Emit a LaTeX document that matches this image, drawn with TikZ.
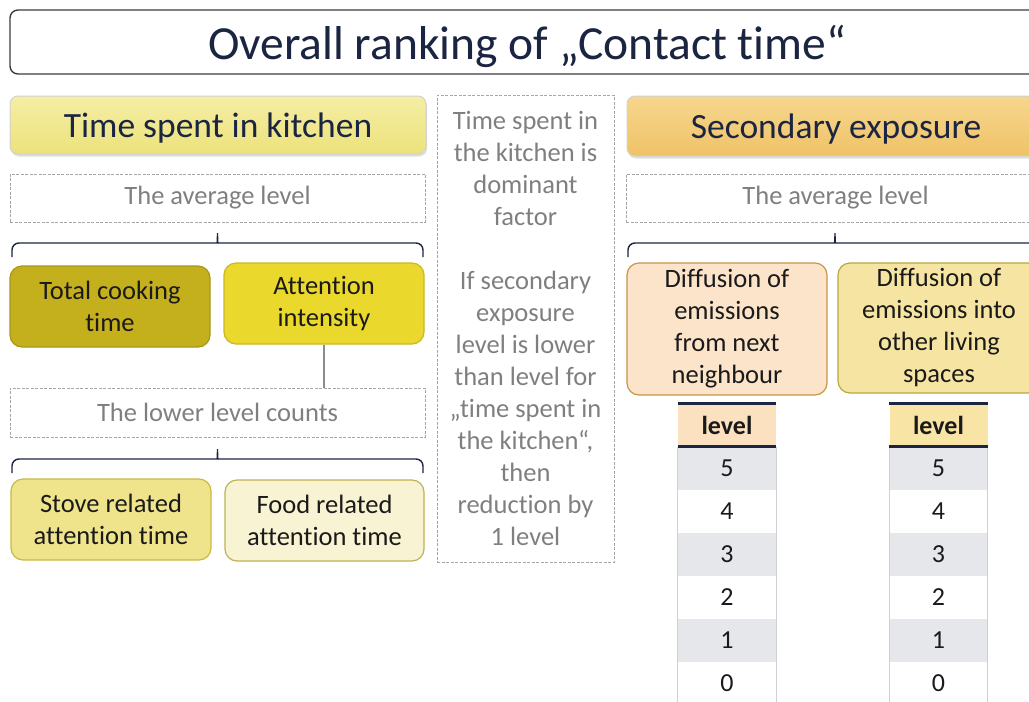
\documentclass[tikz,border=0pt]{standalone}
\usepackage{fontspec}
\setmainfont{Carlito}[Ligatures={NoCommon}]
\usetikzlibrary{positioning,shadows,calc}

\definecolor{navy}{HTML}{1B2542}
\definecolor{textdark}{HTML}{1A1A1A}
\definecolor{graytext}{HTML}{7F7F7F}
\definecolor{dashgray}{HTML}{A6A6A6}
\definecolor{titleline}{HTML}{3C3C3C}
\definecolor{kitchtop}{HTML}{F5EEA4}
\definecolor{kitchbot}{HTML}{ECE27C}
\definecolor{sectop}{HTML}{F6D68E}
\definecolor{secbot}{HTML}{EFC367}
\definecolor{olivefill}{HTML}{C4AF1C}
\definecolor{oliveline}{HTML}{A8961A}
\definecolor{attfill}{HTML}{EBD82C}
\definecolor{attline}{HTML}{C9B824}
\definecolor{stovefill}{HTML}{EFE48C}
\definecolor{stoveline}{HTML}{C7BA44}
\definecolor{foodfill}{HTML}{F8F3D2}
\definecolor{foodline}{HTML}{BDB451}
\definecolor{nbfill}{HTML}{FBE4C9}
\definecolor{nbline}{HTML}{C89448}
\definecolor{othfill}{HTML}{F6E4A2}
\definecolor{othline}{HTML}{B9A93C}
\definecolor{peachhd}{HTML}{FBE1C0}
\definecolor{sandhd}{HTML}{F8E4A5}
\definecolor{rowgray}{HTML}{E6E7EA}
\definecolor{cellline}{HTML}{D0D0D4}

\begin{document}
\begin{tikzpicture}[x=1pt,y=-1pt,
  every node/.style={inner sep=0pt, align=center},
  txt/.style={font=\fontsize{26.5}{32}\selectfont, text=textdark},
  titlebox/.style={draw=titleline, line width=1.4pt, rounded corners=8pt, fill=white,
    font=\fontsize{47.5}{56}\selectfont, text=navy, text depth=0pt},
  headbox/.style={draw=black!18, line width=1pt, rounded corners=8pt,
    font=\fontsize{35.5}{42}\selectfont, text=navy, text depth=0pt,
    drop shadow={opacity=0.25, shadow xshift=1pt, shadow yshift=-2.5pt}},
  dashbox/.style={draw=dashgray, dash pattern=on 3pt off 1.5pt, line width=1pt,
    txt, text=graytext},
  itembox/.style={rounded corners=12pt, line width=1.2pt, txt},
  cell/.style={minimum width=98pt, minimum height=43pt,
    font=\fontsize{26}{30}\selectfont, text=textdark},
  bracestroke/.style={draw=navy, line width=1.4pt, rounded corners=7pt}
]
\clip (0,0) rectangle (1029,702);

% title
\node[titlebox, minimum width=1034pt, minimum height=64pt] (title) at (527,42)
  {Overall ranking of „Contact time“};

% left column: time spent in kitchen
\node[headbox, top color=kitchtop, bottom color=kitchbot,
  minimum width=416pt, minimum height=58pt] (kitch) at (218,125) {Time spent in kitchen};
\node[dashbox, minimum width=415pt, minimum height=48pt] (avgK) at (217.5,198) {The average level};
\node[itembox, draw=oliveline, fill=olivefill, minimum width=200pt, minimum height=81pt]
  (tot) at (110,306.5) {Total cooking\\time};
\node[itembox, draw=attline, fill=attfill, minimum width=200pt, minimum height=81pt]
  (att) at (324,303.5) {Attention\\intensity};
\node[dashbox, minimum width=415pt, minimum height=49pt] (lowK) at (217.5,412.5) {The lower level counts};
\node[itembox, draw=stoveline, fill=stovefill, minimum width=200pt, minimum height=81pt]
  (stove) at (111,519.5) {Stove related\\attention time};
\node[itembox, draw=foodline, fill=foodfill, minimum width=199pt, minimum height=81pt]
  (food) at (324.5,520.5) {Food related\\attention time};

\draw[black!45, line width=1.2pt] (att.south) -- (att.south |- lowK.north);

% middle note
\node[dashbox, minimum width=177pt, minimum height=467pt] (note) at (525.5,328.5)
  {Time spent in\\the kitchen is\\dominant\\factor\\[32pt]If secondary\\exposure\\level is lower\\than level for\\„time spent in\\the kitchen“,\\then\\reduction by\\1 level};

% right column: secondary exposure
\node[headbox, top color=sectop, bottom color=secbot,
  minimum width=418pt, minimum height=60pt] (sec) at (836,126) {Secondary exposure};
\node[dashbox, minimum width=419pt, minimum height=48pt] (avgS) at (835.5,198) {The average level};
\node[itembox, draw=nbline, fill=nbfill, minimum width=200pt, minimum height=132pt]
  (nb) at (727,329) {Diffusion of\\emissions\\from next\\neighbour};
\node[itembox, draw=othline, fill=othfill, minimum width=202pt, minimum height=130pt]
  (oth) at (939,328) {Diffusion of\\emissions into\\other living\\spaces};

% braces
\foreach \xa/\xb/\yb in {12/423/257, 12/423/473, 628/1042/257}{
  \pgfmathsetmacro\xm{(\xa+\xb)/2}
  \draw[bracestroke] (\xa,\yb) -- (\xa,\yb-14) -- (\xm-6,\yb-14)
    .. controls (\xm-1,\yb-14) and (\xm,\yb-20) .. (\xm,\yb-28)
    .. controls (\xm,\yb-20) and (\xm+1,\yb-14) .. (\xm+6,\yb-14)
    -- (\xb,\yb-14) -- (\xb,\yb);
}

% level tables
\foreach \tb/\cx/\hc in {A/727/peachhd, B/938.5/sandhd}{
  \node[cell, fill=\hc, font=\fontsize{26}{30}\selectfont\bfseries] (hd\tb) at (\cx,425) {level};
  \foreach \lv [count=\r from 0] in {5,4,3,2,1,0}{
    \ifodd\r\def\rowfill{white}\else\def\rowfill{rowgray}\fi
    \node[cell, fill=\rowfill] (\tb\lv) at (\cx,468.5+43*\r) {\lv};
  }
  \draw[cellline, line width=1pt] (hd\tb.south west) -- (\tb0.south west)
    (hd\tb.south east) -- (\tb0.south east);
  \draw[navy, line width=3pt] (hd\tb.north west) -- (hd\tb.north east)
    (hd\tb.south west) -- (hd\tb.south east);
}
\end{tikzpicture}
\end{document}
